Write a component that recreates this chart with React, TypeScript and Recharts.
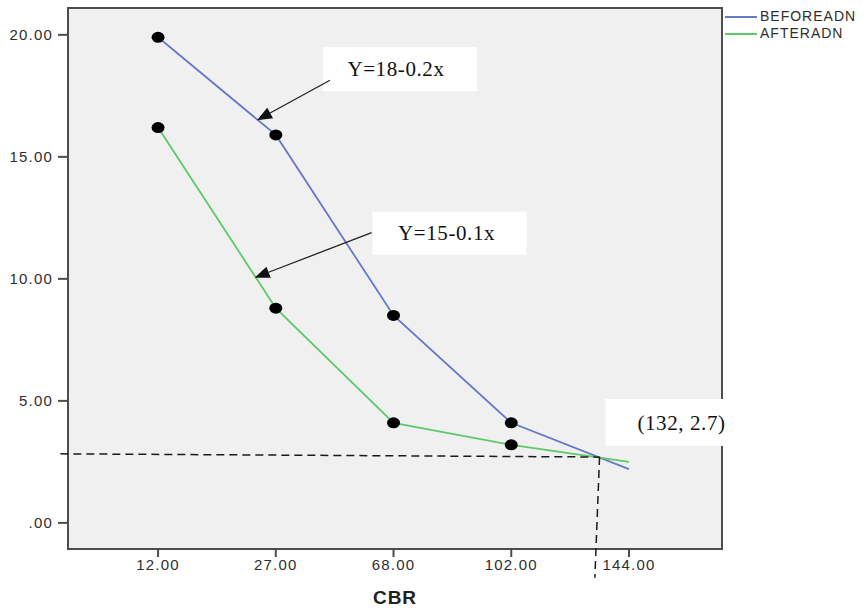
import {
  LineChart,
  Line,
  XAxis,
  YAxis,
  CartesianGrid,
  ReferenceArea,
  ReferenceLine,
  ReferenceDot,
  Label,
} from "recharts";

// CBR categories, plotted at even steps like the SPSS category axis
const cbrLabels = ["12.00", "27.00", "68.00", "102.00", "144.00"];
const beforeAdn = [19.9, 15.9, 8.5, 4.1, 2.2];
const afterAdn = [16.2, 8.8, 4.1, 3.2, 2.5];
const yTicks = [0, 5, 10, 15, 20];

// where the two lines cross (CBR 132 sits between the 102 and 144 slots)
const crossX = 3.75;
const crossY = 2.7;
// dashed guide ends
const guideLeft = { x: -0.83, y: 2.83 };
const guideBottom = { x: 3.71, y: -2.25 };

// equation notes: text + the point on the line the arrow touches
const noteTexts = ["Y=18-0.2x", "Y=15-0.1x", "(132, 2.7)"];
const noteX = [0.84, 0.82, crossX];
const noteY = [16.5, 10.05, crossY];

const BLUE = "#6678c9";
const GREEN = "#5cc96a";
const FRAME = "#4d4d4d";

const xDomain = [-0.765, 4.79];
const yDomain = [-1.07, 21.1];

const data = cbrLabels.map((c, i) => ({
  i,
  cbr: c,
  BEFOREADN: beforeAdn[i],
  AFTERADN: afterAdn[i],
}));

// pixel layout of each note relative to its anchor
const noteLayout = [
  { tail: [73, -40], box: [66, -73, 154, 44], tx: 73 },
  { tail: [117, -45], box: [118, -66, 154, 43], tx: 74 },
  { tail: null, box: [6, -58, 118, 47], tx: 76 },
];

function noteShape(k: number) {
  return (p: any) => {
    const { cx, cy } = p;
    const lay = noteLayout[k];
    const [bx, by, bw, bh] = lay.box;
    let arrow = null;
    if (lay.tail) {
      const [dx, dy] = lay.tail;
      const len = Math.hypot(dx, dy);
      const ux = -dx / len;
      const uy = -dy / len;
      const baseX = cx - ux * 15;
      const baseY = cy - uy * 15;
      const nx = -uy * 6;
      const ny = ux * 6;
      arrow = (
        <g>
          <line x1={cx + dx} y1={cy + dy} x2={baseX} y2={baseY} stroke="#222" strokeWidth={1.3} />
          <polygon
            points={`${cx},${cy} ${baseX + nx},${baseY + ny} ${baseX - nx},${baseY - ny}`}
            fill="#111"
          />
        </g>
      );
    }
    return (
      <g>
        <rect x={cx + bx} y={cy + by} width={bw} height={bh} fill="#fff" />
        <text
          x={cx + bx + lay.tx}
          y={cy + by + bh / 2}
          textAnchor="middle"
          dominantBaseline="central"
          fontFamily="'Liberation Serif', 'DejaVu Serif', serif"
          fontSize={21}
          letterSpacing={0.6}
          fill="#111"
        >
          {noteTexts[k]}
        </text>
        {arrow}
      </g>
    );
  };
}

const dot = (p: any) =>
  p.index < 4 ? (
    <ellipse key={p.index} cx={p.cx} cy={p.cy} rx={6.5} ry={5.5} fill="#000" />
  ) : (
    <g key={p.index} />
  );

const series = [
  { key: "BEFOREADN", color: BLUE },
  { key: "AFTERADN", color: GREEN },
];

const tickStyle = {
  fill: "#2e2e2e",
  fontSize: 15,
  fontFamily: "'Liberation Sans', Arial, sans-serif",
  letterSpacing: 1.2,
};

export default function App() {
  return (
    <div style={{ position: "absolute", left: 0, top: 0, width: 867, height: 612, background: "#fff" }}>
      <LineChart
        width={867}
        height={612}
        data={data}
        margin={{ top: 8, right: 145, bottom: 8, left: 8 }}
      >
        <CartesianGrid fill="#f0f0f0" horizontal={false} vertical={false} />
        <XAxis
          type="number"
          dataKey="i"
          domain={xDomain}
          allowDataOverflow
          ticks={[0, 1, 2, 3, 4]}
          tickFormatter={(v) => cbrLabels[v]}
          axisLine={false}
          tickSize={8}
          tickLine={{ stroke: FRAME, strokeWidth: 2 }}
          tick={tickStyle}
          height={55}
        >
          <Label
            value="CBR"
            position="insideBottom"
            offset={0}
            style={{
              fontFamily: "'Liberation Sans', Arial, sans-serif",
              fontWeight: "bold",
              fontSize: 19,
              fill: "#222",
              letterSpacing: 1,
            }}
          />
        </XAxis>
        <YAxis
          type="number"
          domain={yDomain}
          allowDataOverflow
          ticks={yTicks}
          tickFormatter={(v) => (v === 0 ? ".00" : v.toFixed(2))}
          axisLine={false}
          tickSize={10}
          tickMargin={5}
          tickLine={{ stroke: FRAME, strokeWidth: 2 }}
          tick={tickStyle}
          width={60}
        />
        <ReferenceArea
          x1={xDomain[0]}
          x2={xDomain[1]}
          y1={yDomain[0]}
          y2={yDomain[1]}
          fill="none"
          stroke={FRAME}
          strokeWidth={2}
          ifOverflow="visible"
        />
        {series.map((s) => (
          <Line
            key={s.key}
            dataKey={s.key}
            type="linear"
            stroke={s.color}
            strokeWidth={1.8}
            dot={dot}
            activeDot={false}
            isAnimationActive={false}
          />
        ))}
        <ReferenceLine
          segment={[guideLeft, { x: crossX, y: crossY }]}
          stroke="#1a1a1a"
          strokeWidth={1.5}
          strokeDasharray="8 5"
          ifOverflow="visible"
        />
        <ReferenceLine
          segment={[{ x: crossX, y: crossY }, guideBottom]}
          stroke="#1a1a1a"
          strokeWidth={1.5}
          strokeDasharray="8 5"
          ifOverflow="visible"
        />
        {noteTexts.map((t, k) => (
          <ReferenceDot
            key={t}
            x={noteX[k]}
            y={noteY[k]}
            r={0}
            ifOverflow="visible"
            shape={noteShape(k)}
          />
        ))}
      </LineChart>
      <div
        style={{
          position: "absolute",
          left: 725,
          top: 8,
          fontFamily: "'Liberation Sans', Arial, sans-serif",
          fontSize: 14,
          letterSpacing: 1,
          color: "#2e2e2e",
          lineHeight: "17px",
        }}
      >
        {series.map((s) => (
          <div key={s.key} style={{ display: "flex", alignItems: "center" }}>
            <span style={{ display: "inline-block", width: 32, height: 2, background: s.color, marginRight: 3 }} />
            <span>{s.key}</span>
          </div>
        ))}
      </div>
    </div>
  );
}
